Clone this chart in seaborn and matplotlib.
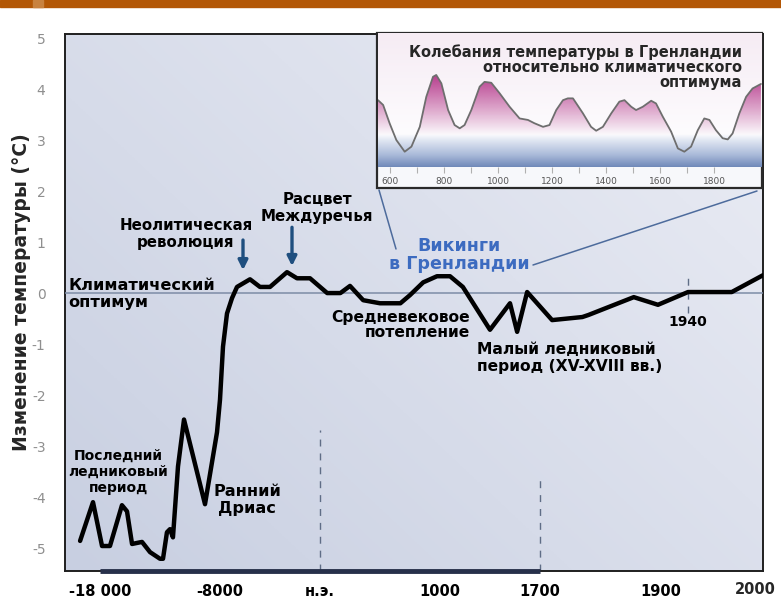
import numpy as np
import seaborn as sns
import matplotlib
matplotlib.use("Agg")
from matplotlib import pyplot as plt
from matplotlib.patches import Rectangle
from matplotlib.lines import Line2D

sns.set_theme(style="white")
plt.rcParams['font.family'] = ['DejaVu Sans']

# main reconstruction: years and temperature change relative to the climatic optimum
years = [-19650, -18580, -17830, -17170, -16170, -15750, -15330, -14500, -13830, -13000,
         -12750, -12420, -12170, -11920, -11500, -11000, -9250, -8250, -8000, -7760,
         -7440, -7040, -6640, -5600, -4800, -4000, -2640, -1840, -800, 60,
         170, 250, 360, 500, 670, 750, 860, 975, 1070, 1160,
         1350, 1490, 1540, 1610, 1720, 1770, 1780, 1855, 1895, 1940,
         1975, 2000]
temps = [-4.86, -4.1, -4.96, -4.96, -4.16, -4.28, -4.92, -4.88, -5.08, -5.21,
         -5.21, -4.69, -4.63, -4.79, -3.4, -2.48, -4.14, -2.73, -2.09, -1.05,
         -0.4, -0.1, 0.12, 0.27, 0.12, 0.12, 0.41, 0.29, 0.29, 0.0,
         0.0, 0.14, -0.14, -0.2, -0.2, -0.04, 0.21, 0.33, 0.33, 0.12,
         -0.72, -0.2, -0.76, 0.02, -0.53, -0.47, -0.43, -0.08, -0.23, 0.02,
         0.02, 0.35]

xtick_years = [-18000, -8000, 0, 1000, 1700, 1900, 2000]
xtick_labels = ["-18 000", "-8000", "н.э.", "1000", "1700", "1900", "2000"]
ytick_vals = list(range(-5, 6))

# inset: Greenland temperature fluctuations
gl_years = [554, 573, 597, 622, 653, 678, 709, 733, 758, 770,
            789, 814, 838, 857, 875, 900, 931, 949, 974, 1005,
            1042, 1079, 1110, 1134, 1166, 1190, 1215, 1240, 1258, 1277,
            1314, 1344, 1363, 1388, 1419, 1449, 1468, 1493, 1511, 1536,
            1567, 1585, 1610, 1641, 1666, 1690, 1715, 1740, 1764, 1783,
            1807, 1832, 1851, 1869, 1894, 1919, 1943, 1974]
gl_vals = [1.23, 1.07, 0.46, -0.1, -0.49, -0.32, 0.34, 1.34, 2.01, 2.07,
           1.79, 0.9, 0.4, 0.29, 0.4, 0.9, 1.68, 1.84, 1.81, 1.46,
           1.01, 0.62, 0.57, 0.46, 0.34, 0.4, 0.9, 1.23, 1.29, 1.29,
           0.79, 0.34, 0.21, 0.34, 0.79, 1.18, 1.23, 1.01, 0.9, 1.01,
           1.21, 1.12, 0.68, 0.18, -0.38, -0.49, -0.32, 0.23, 0.62, 0.57,
           0.23, -0.04, -0.08, 0.12, 0.79, 1.34, 1.62, 1.77]
gl_ticks = [600, 800, 1000, 1200, 1400, 1600, 1800]

# piecewise axis (the original time axis is not linear)
SCALE_YEARS = [-20900, -18000, -8000, 0, 1000, 1700, 1900, 1940, 2000]
SCALE_POS = [65, 100, 220, 320, 440, 540, 661, 688, 763]


def fwd(x):
    return np.interp(x, SCALE_YEARS, SCALE_POS)


def inv(p):
    return np.interp(p, SCALE_POS, SCALE_YEARS)


W, H = 781, 597
fig = plt.figure(figsize=(W / 100, H / 100), dpi=100)
fig.patch.set_facecolor("white")

# top bar
fig.patches.append(Rectangle((0, 1 - 7 / H), 1, 7 / H, transform=fig.transFigure,
                             color="#b35705", zorder=0))
fig.patches.append(Rectangle((33 / W, 1 - 7 / H), 10 / W, 7 / H, transform=fig.transFigure,
                             color="#c8823f", zorder=0))

ax = fig.add_axes([65 / W, 1 - 571 / H, 698 / W, 537 / H])
YLO, YHI = -5.45, 5.08

# background gradient
gx, gy = np.meshgrid(np.linspace(0, 1, 200), np.linspace(0, 1, 200))
t = np.clip(0.55 * gx + 0.45 * gy, 0, 1)[..., None]
dark = np.array([200, 207, 225]) / 255
light = np.array([235, 237, 245]) / 255
bg = dark * (1 - t) + light * t
ax.imshow(bg, extent=(0, 1, 0, 1), transform=ax.transAxes, aspect="auto",
          origin="lower", zorder=0)

sns.lineplot(x=years, y=temps, ax=ax, color="black", lw=3.2, estimator=None,
             sort=False, zorder=5)
ax.set_xscale("function", functions=(fwd, inv))
ax.set_xlim(SCALE_YEARS[0], SCALE_YEARS[-1])
ax.set_ylim(YLO, YHI)

ax.axhline(0, color="#7d8ca6", lw=1.1, zorder=3)
ax.vlines(0, YLO, -2.69, colors="#5f6d86", linestyles=(0, (5, 5)), lw=1)
ax.vlines(1700, YLO, -3.6, colors="#5f6d86", linestyles=(0, (5, 5)), lw=1)
ax.vlines(1940, -0.39, 0.41, colors="#5f6d86", linestyles=(0, (5, 5)), lw=1)
ax.plot([-18000, 1700], [YLO, YLO], color="#27304a", lw=3.5, clip_on=False,
        solid_capstyle="butt", zorder=6)

ax.set_xticks(xtick_years)
# the last label sits at the right edge, so it is drawn separately, right-aligned
ax.set_xticklabels(xtick_labels[:-1] + [""], fontweight="bold", fontsize=10.5, color="black")
ax.annotate(xtick_labels[-1], xy=(1, 0), xycoords="axes fraction", xytext=(13, -19),
            textcoords="offset pixels", ha="right", va="center", fontsize=10.5,
            fontweight="bold", annotation_clip=False)
ax.set_yticks(ytick_vals)
ax.set_yticklabels([str(v) for v in ytick_vals], fontsize=10, color="#8f8f8f")
ax.tick_params(axis="x", direction="in", length=12, width=1, color="#8a94a8", pad=9)
ax.tick_params(axis="y", length=0, pad=14)
ax.set_xlabel("")
ax.set_ylabel("")
for s in ax.spines.values():
    s.set_color("#1f1f1f")
    s.set_linewidth(1.4)

fig.text(22 / W, 1 - 292 / H, "Изменение температуры (°C)", rotation=90,
         ha="center", va="center", fontsize=13.5, fontweight="bold")


def atext(px, py, s, **kw):
    fx = (px - 65) / 698
    fy = (571 - py) / 537
    opts = dict(fontsize=10, fontweight="bold", color="black", linespacing=1.1,
                va="center", ha="center", transform=ax.transAxes, zorder=7)
    opts.update(kw)
    ax.text(fx, fy, s, **opts)


atext(186, 234, "Неолитическая\nреволюция", fontsize=10.8)
atext(317, 208, "Расцвет\nМеждуречья", fontsize=10.8)
atext(68, 294, "Климатический\nоптимум", ha="left", fontsize=11.6)
atext(470, 325, "Средневековое\nпотепление", ha="right", multialignment="right",
      fontsize=11.2, linespacing=1.0)
atext(477, 358, "Малый ледниковый\nпериод (XV-XVIII вв.)", ha="left", fontsize=11.2)
atext(688, 322, "1940")
atext(118, 472, "Последний\nледниковый\nпериод", linespacing=1.2)
atext(247, 500, "Ранний\nДриас", fontsize=11.6)
atext(459, 255, "Викинги\nв Гренландии", color="#3c6bc0", fontsize=12.6, linespacing=1.0)

arrow = dict(arrowstyle="-|>", color="#1f4f7f", lw=2.4, mutation_scale=14,
             shrinkA=0, shrinkB=0)
ax.annotate("", xy=(-6160, 0.45), xytext=(-6160, 1.04), arrowprops=arrow, zorder=7)
ax.annotate("", xy=(-2240, 0.53), xytext=(-2240, 1.29), arrowprops=arrow, zorder=7)

# connector lines from the Viking label to the inset
for (x0, y0, x1, y1) in [(396, 249, 379, 190), (533, 265, 757, 191)]:
    fig.lines.append(Line2D([x0 / W, x1 / W], [1 - y0 / H, 1 - y1 / H],
                            transform=fig.transFigure, color="#4d6b9c", lw=1.1,
                            zorder=3))

# inset frame
fig.patches.append(Rectangle((377 / W, 1 - 188 / H), 385 / W, 155 / H,
                             transform=fig.transFigure, facecolor="#f7f8fb",
                             edgecolor="#2a2a2a", lw=1.6, zorder=2))

axi = fig.add_axes([378 / W, 1 - 167 / H, 384 / W, 134 / H])
axi.set_zorder(3)
IX0, IX1, IY0, IY1 = 554, 1978, -1.0, 3.47
vv = np.linspace(IY0, IY1, 300)

# background: pale pink at the top, white in the middle, blue band at the bottom
top_c = np.array([246, 236, 244])
white = np.array([253, 252, 254])
blue1 = np.array([226, 232, 243])
blue2 = np.array([170, 186, 217])
blue3 = np.array([112, 137, 185])
rows = []
for v in vv:
    if v >= 0.1:
        k = min((v - 0.1) / 3.3, 1)
        c = white * (1 - k) + top_c * k
    elif v >= -0.1:
        k = (0.1 - v) / 0.2
        c = white * (1 - k) + blue1 * k
    elif v >= -0.6:
        k = (-v - 0.1) / 0.5
        c = blue1 * (1 - k) + blue2 * k
    else:
        k = (-v - 0.6) / 0.4
        c = blue2 * (1 - k) + blue3 * k
    rows.append(c / 255)
bgi = np.array(rows)[:, None, :].repeat(2, axis=1)
axi.imshow(bgi, extent=(IX0, IX1, IY0, IY1), aspect="auto", origin="lower", zorder=0)

# pink fill under the curve
pink = np.zeros((300, 2, 4))
pink[..., 0] = 184 / 255
pink[..., 1] = 64 / 255
pink[..., 2] = 143 / 255
alpha = np.clip((vv - 0.05) / 2.0, 0, 1)
pink[..., 3] = alpha[:, None]
im = axi.imshow(pink, extent=(IX0, IX1, IY0, IY1), aspect="auto", origin="lower", zorder=1)
poly = axi.fill_between(gl_years, gl_vals, IY0, facecolor="none", edgecolor="none")
im.set_clip_path(poly.get_paths()[0], transform=axi.transData)

sns.lineplot(x=gl_years, y=gl_vals, ax=axi, color="#6e6e6e", lw=1.3,
             estimator=None, sort=False, zorder=2)
axi.set_xlim(IX0, IX1)
axi.set_ylim(IY0, IY1)
axi.set_yticks([])
axi.set_xticks(gl_ticks)
axi.set_xticks(range(700, 1900, 200), minor=True)
axi.set_xticklabels([str(v) for v in gl_ticks], fontsize=6.5, color="#555555")
axi.tick_params(axis="x", which="both", direction="out", length=4, width=0.8,
                color="#b0b0b0", pad=3, bottom=True)
axi.set_xlabel("")
axi.set_ylabel("")
for s in axi.spines.values():
    s.set_visible(False)

axi.text(0.948, 0.746, "Колебания температуры в Гренландии\nотносительно климатического\nоптимума",
         transform=axi.transAxes, ha="right", va="center", multialignment="right",
         fontsize=10.5, fontweight="bold", linespacing=1.0, zorder=5)

fig.savefig("out.png", dpi=100)
